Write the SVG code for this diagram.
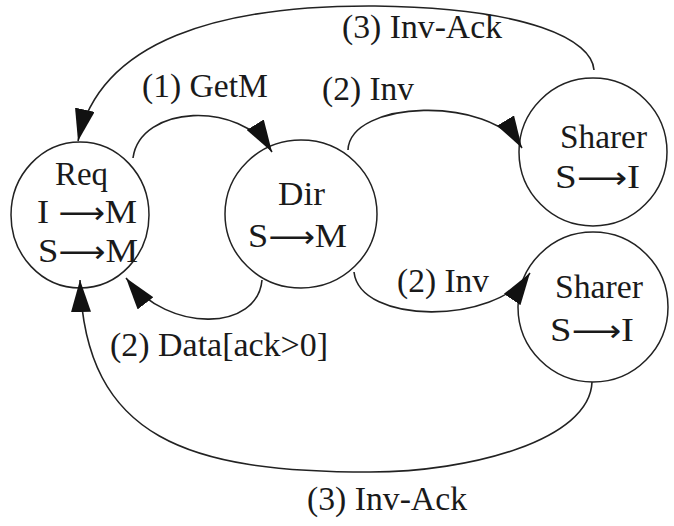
<svg xmlns="http://www.w3.org/2000/svg" width="674" height="526" viewBox="0 0 674 526">
<style>
.node{fill:none;stroke:#222;stroke-width:1.5}
.edge{fill:none;stroke:#222;stroke-width:1.6}
text{font-family:"Liberation Serif","Times New Roman",serif;font-size:33.5px;fill:#1a1a1a}
.ar{font-family:"DejaVu Sans","DejaVu Serif",sans-serif;font-size:30px}
</style>
<defs>
<marker id="ah" markerWidth="32" markerHeight="20" refX="32" refY="10" orient="auto" markerUnits="userSpaceOnUse">
<path d="M0,0 L32,10 L0,20 z" fill="#111"/>
</marker>
</defs>
<rect width="674" height="526" fill="#fff"/>
<g id="req">
<ellipse class="node" cx="80" cy="215" rx="69" ry="73"/>
<text x="55" y="185" textLength="53" lengthAdjust="spacingAndGlyphs">Req</text>
<text x="37" y="223" textLength="100" lengthAdjust="spacingAndGlyphs">I <tspan class="ar">⟶</tspan>M</text>
<text x="38" y="262" textLength="100" lengthAdjust="spacingAndGlyphs">S<tspan class="ar">⟶</tspan>M</text>
</g>
<g id="dir">
<ellipse class="node" cx="301" cy="214" rx="76" ry="74"/>
<text x="278" y="205" textLength="47" lengthAdjust="spacingAndGlyphs">Dir</text>
<text x="248" y="247" textLength="99" lengthAdjust="spacingAndGlyphs">S<tspan class="ar">⟶</tspan>M</text>
</g>
<g id="sharer1">
<ellipse class="node" cx="593" cy="152" rx="74" ry="74"/>
<text x="560" y="148" textLength="87" lengthAdjust="spacingAndGlyphs">Sharer</text>
<text x="555" y="188" textLength="85" lengthAdjust="spacingAndGlyphs">S<tspan class="ar">⟶</tspan>I</text>
</g>
<g id="sharer2">
<ellipse class="node" cx="593" cy="307" rx="75" ry="75"/>
<text x="555" y="298" textLength="88" lengthAdjust="spacingAndGlyphs">Sharer</text>
<text x="550" y="341" textLength="84" lengthAdjust="spacingAndGlyphs">S<tspan class="ar">⟶</tspan>I</text>
</g>
<g id="connectors">
<path class="edge" d="M594,70 C592,40 530,8 375,6 C220,5 100,40 78,141" marker-end="url(#ah)"/>
<path class="edge" d="M133,158 C140,105 240,100 272,152" marker-end="url(#ah)"/>
<path class="edge" d="M348,150 C350,100 490,95 522,148" marker-end="url(#ah)"/>
<path class="edge" d="M262,280 C258,330 170,335 126,278" marker-end="url(#ah)"/>
<path class="edge" d="M354,272 C360,325 495,325 530,273" marker-end="url(#ah)"/>
<path class="edge" d="M592,382 C590,440 470,472 370,472 C190,472 85,440 80,280" marker-end="url(#ah)"/>
<text x="342" y="38" textLength="160" lengthAdjust="spacingAndGlyphs">(3) Inv-Ack</text>
<text x="142" y="97" textLength="126" lengthAdjust="spacingAndGlyphs">(1) GetM</text>
<text x="322" y="100" textLength="92" lengthAdjust="spacingAndGlyphs">(2) Inv</text>
<text x="397" y="292" textLength="92" lengthAdjust="spacingAndGlyphs">(2) Inv</text>
<text x="110" y="356" textLength="218" lengthAdjust="spacingAndGlyphs">(2) Data[ack&gt;0]</text>
<text x="307" y="510" textLength="160" lengthAdjust="spacingAndGlyphs">(3) Inv-Ack</text>
</g>
</svg>
